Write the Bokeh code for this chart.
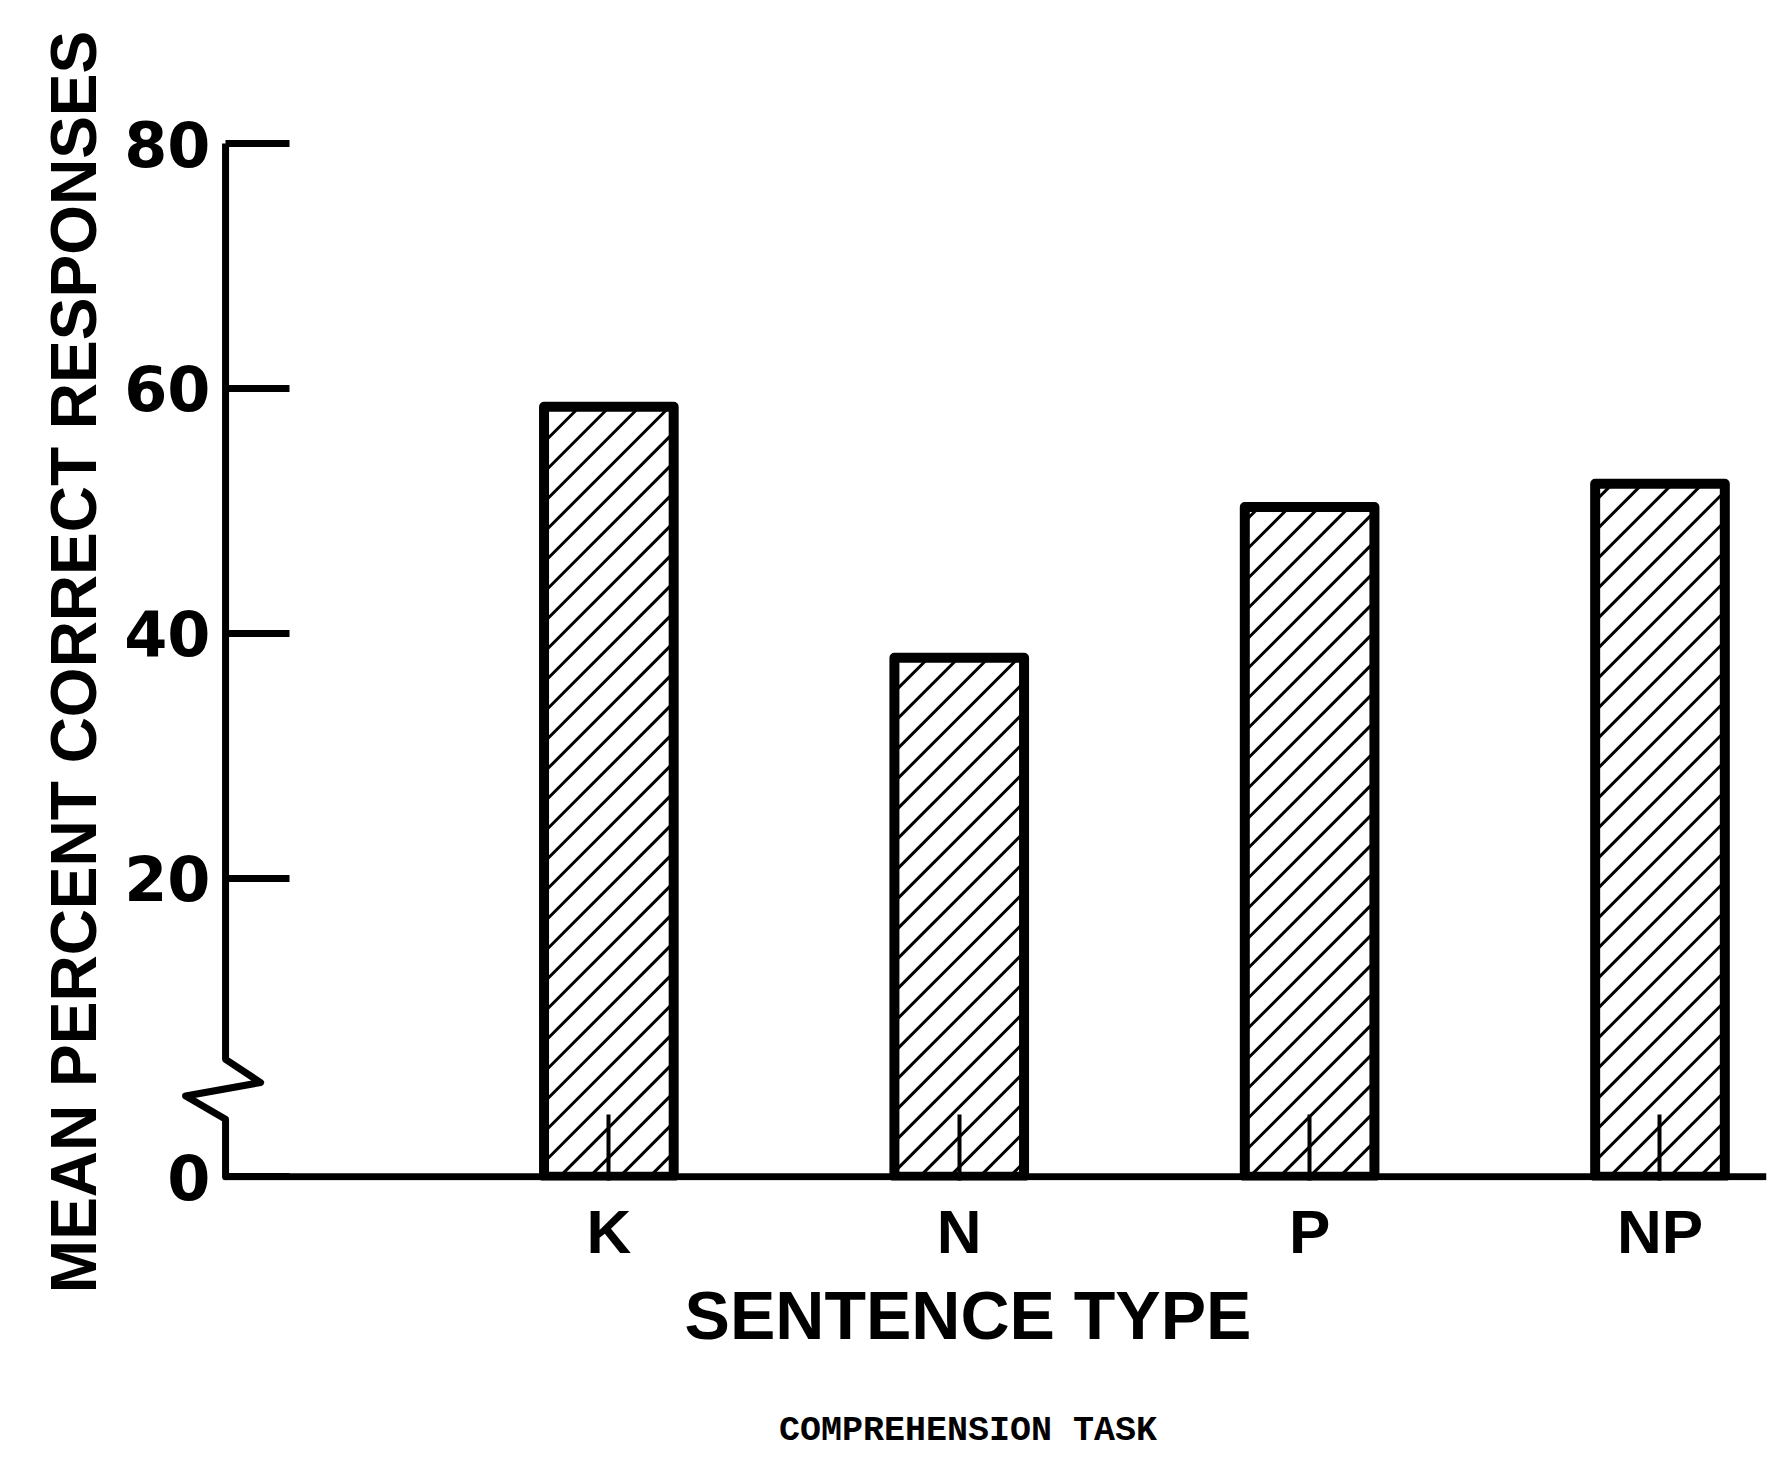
import math
from bokeh.plotting import figure
from bokeh.models import Range1d, FixedTicker, ColumnDataSource, LinearAxis
from bokeh.embed import file_html
from bokeh.resources import INLINE

# ---- data ----
categories = ["K", "N", "P", "NP"]
mean_pct_correct = [58.5, 38.0, 50.3, 52.2]
y_tick_values = [20, 40, 60, 80]
zero_label = "0"
x_title = "SENTENCE TYPE"
y_title = "MEAN PERCENT CORRECT RESPONSES"
caption = "COMPREHENSION TASK"

# ---- layout (broken y axis: "0" is drawn at Y_BASE) ----
W, H = 1767, 1454
LEFT, RIGHT, TOP, BOTTOM = 169, 1, 143, 274
FRAME_W, FRAME_H = W - LEFT - RIGHT, H - TOP - BOTTOM
Y_BASE, Y_TOP = -4.4, 80
Y_START = Y_BASE - 0.3
X_START, X_END = -0.254, 4.304
X_AXIS = -0.094                      # where the y axis line stands
AXIS_GAP = round((X_AXIS - X_START) * FRAME_W / (X_END - X_START))  # px from frame edge
BREAK_Y = [5.2, 3.3, 2.2, 0.3]       # zig-zag of the axis break
BREAK_DX = [0.0, 0.10, -0.114, 0.0]
BAR_W = 0.37
HATCH_SPACING = 30                   # px, 45-degree hatching

FONT = "Liberation Sans"
DIGITS = "DejaVu Sans"

xs = list(range(1, len(categories) + 1))
src = ColumnDataSource(dict(x=xs, top=mean_pct_correct))

# 45-degree hatching clipped to each bar (computed from the bar values)
kx = FRAME_W / (X_END - X_START)
ky = FRAME_H / (Y_TOP - Y_START)
hx0, hy0, hx1, hy1 = [], [], [], []
for xc, top in zip(xs, mean_pct_correct):
    ul = (xc - BAR_W / 2 - X_START) * kx
    ur = (xc + BAR_W / 2 - X_START) * kx
    hh = (top - Y_BASE) * ky
    for n in range(math.floor((ul - hh) / HATCH_SPACING), math.ceil(ur / HATCH_SPACING) + 1):
        d = n * HATCH_SPACING
        a, b = max(ul, d), min(ur, hh + d)
        if b > a:
            hx0.append(X_START + a / kx); hy0.append(Y_BASE + (a - d) / ky)
            hx1.append(X_START + b / kx); hy1.append(Y_BASE + (b - d) / ky)

p = figure(width=W, height=H, output_backend="svg", toolbar_location=None,
           x_range=Range1d(X_START, X_END), y_range=Range1d(Y_START, Y_TOP),
           min_border_left=LEFT, min_border_right=RIGHT, min_border_top=TOP,
           min_border_bottom=BOTTOM)
p.outline_line_color = None
p.xgrid.visible = False
p.ygrid.visible = False
p.background_fill_color = "white"
p.border_fill_color = "white"

p.segment(x0=hx0, y0=hy0, x1=hx1, y1=hy1, line_color="black", line_width=3)
p.vbar(x="x", top="top", bottom=Y_BASE, width=BAR_W, source=src,
       fill_color=None, line_color="black", line_width=10, line_join="round")

# x axis (its line is a glyph so that it starts at the y axis)
p.xaxis.ticker = FixedTicker(ticks=xs)
p.xaxis.major_label_overrides = {x: c for x, c in zip(xs, categories)}
p.xaxis.axis_line_color = None
p.xaxis.major_tick_in = 66
p.xaxis.major_tick_out = 0
p.xaxis.major_tick_line_width = 4
p.xaxis.major_tick_line_color = "black"
p.xaxis.minor_tick_line_color = None
p.xaxis.major_label_standoff = 16
p.xaxis.major_label_text_font = FONT
p.xaxis.major_label_text_font_style = "bold"
p.xaxis.major_label_text_font_size = "62px"
p.xaxis.major_label_text_color = "black"
p.xaxis.axis_label = x_title
p.xaxis.axis_label_text_font = FONT
p.xaxis.axis_label_text_font_style = "bold"
p.xaxis.axis_label_text_font_size = "68px"
p.xaxis.axis_label_text_color = "black"
p.xaxis.axis_label_standoff = 8

# caption below the axis title (an axis without ticks that only carries a label)
cap_axis = LinearAxis(ticker=FixedTicker(ticks=[]), axis_line_color=None,
                      major_tick_line_color=None, minor_tick_line_color=None,
                      major_label_text_font_size="0px",
                      axis_label=caption, axis_label_text_font="Liberation Mono",
                      axis_label_text_font_size="35px", axis_label_text_font_style="bold",
                      axis_label_text_color="black", axis_label_standoff=55)
p.add_layout(cap_axis, "below")

# y axis: ticks and labels moved in to the axis line (which is a glyph with the break)
p.yaxis.ticker = FixedTicker(ticks=[Y_BASE] + y_tick_values)
p.yaxis.major_label_overrides = {Y_BASE: zero_label}
p.yaxis.axis_line_color = None
p.yaxis.major_tick_out = -AXIS_GAP
p.yaxis.major_tick_in = AXIS_GAP + 64
p.yaxis.major_tick_line_width = 7
p.yaxis.major_tick_line_color = "black"
p.yaxis.minor_tick_line_color = None
p.yaxis.major_label_standoff = 15 - AXIS_GAP
p.yaxis.major_label_text_font = DIGITS
p.yaxis.major_label_text_font_style = "bold"
p.yaxis.major_label_text_font_size = "62px"
p.yaxis.major_label_text_color = "black"
p.yaxis.axis_label = y_title
p.yaxis.axis_label_text_font = FONT
p.yaxis.axis_label_text_font_style = "bold"
p.yaxis.axis_label_text_font_size = "64px"
p.yaxis.axis_label_text_color = "black"
p.yaxis.axis_label_standoff = 11

# axis lines
ax_x = [X_AXIS] + [X_AXIS + d for d in BREAK_DX] + [X_AXIS]
ax_y = [Y_TOP] + BREAK_Y + [Y_BASE]
p.line(ax_x, ax_y, line_color="black", line_width=7, line_join="round", line_cap="round")
p.segment(x0=[X_AXIS], y0=[Y_BASE], x1=[X_END], y1=[Y_BASE],
          line_color="black", line_width=7)

open("out.html", "w").write(file_html(p, INLINE))
